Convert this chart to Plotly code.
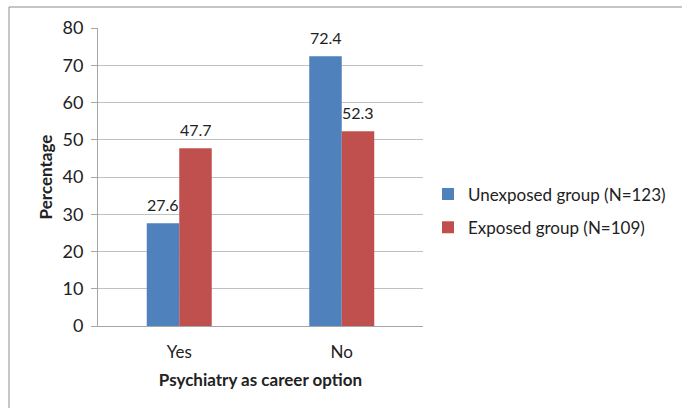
import plotly.graph_objects as go

# Chart data
categories = ['Yes', 'No']
unexposed = [27.6, 72.4]
exposed = [47.7, 52.3]
series_names = ['Unexposed group (N=123)', 'Exposed group (N=109)']
y_ticks = [0, 10, 20, 30, 40, 50, 60, 70, 80]

BLUE = '#4F81BD'
RED = '#C0504D'
FONT = 'Lato'

# Plot area margins (pixels)
L, R, T, B = 98, 259, 28, 82
W, H = 682, 408
pw, ph = W - L - R, H - T - B
bar_px = pw / len(categories) * 0.4 / 2

fig = go.Figure()
annotations = []
for i, (name, vals, col, grp) in enumerate([(series_names[0], unexposed, BLUE, 'a'),
                                            (series_names[1], exposed, RED, 'b')]):
    fig.add_trace(go.Bar(
        x=categories, y=vals, name=name, legendgroup=grp,
        marker=dict(color=col, line=dict(color=col, width=0)),
        hoverinfo='skip',
    ))
    # data labels, Excel style (a bit higher above the bar than plotly's own)
    for c, v in zip(categories, vals):
        annotations.append(dict(
            x=c, y=v, xref='x', yref='y', text=f'{v:.1f}', showarrow=False,
            xshift=(i - 0.5) * bar_px, yshift=19, yanchor='middle',
            font=dict(size=16, color='#222222', family=FONT),
        ))

fig.update_layout(
    width=W, height=H,
    margin=dict(l=L, r=R, t=T, b=B, autoexpand=False),
    paper_bgcolor='white', plot_bgcolor='white',
    barmode='group', bargap=0.6, bargroupgap=0,
    font=dict(family=FONT, size=17, color='#222222'),
    showlegend=True,
    legend=dict(x=(428 - L) / pw, y=1 - (211 - T) / ph, xanchor='left', yanchor='middle',
                traceorder='grouped', tracegroupgap=8,
                font=dict(size=17, family=FONT, color='#222222'),
                itemwidth=30),
    xaxis=dict(
        showline=True, linecolor='#A6A6A6', linewidth=1,
        ticks='', tickfont=dict(size=17), ticklabelstandoff=11,
        title=dict(text='<b>Psychiatry as career option</b>', font=dict(size=17), standoff=12),
    ),
    yaxis=dict(
        range=[0, 80], tickvals=y_ticks,
        showgrid=True, gridcolor='#C0C0C0', gridwidth=1,
        showline=True, linecolor='#A6A6A6', linewidth=1,
        ticks='outside', ticklen=6, tickcolor='#A6A6A6',
        tickfont=dict(size=18), zeroline=False, ticklabelstandoff=4,
        title=dict(text='<b>Percentage</b>', font=dict(size=17), standoff=5),
    ),
    annotations=annotations,
    shapes=[dict(
        type='rect', xref='paper', yref='paper',
        x0=(9 - L) / pw, x1=(W + 5 - L) / pw,
        y0=-(H + 5 - T - ph) / ph, y1=1 + (T - 7) / ph,
        line=dict(color='#8C8C8C', width=1), fillcolor='rgba(0,0,0,0)',
        layer='below',
    )],
)

fig.write_html('out.html', config={'displayModeBar': False},
               post_script="document.body.style.margin='0';")
